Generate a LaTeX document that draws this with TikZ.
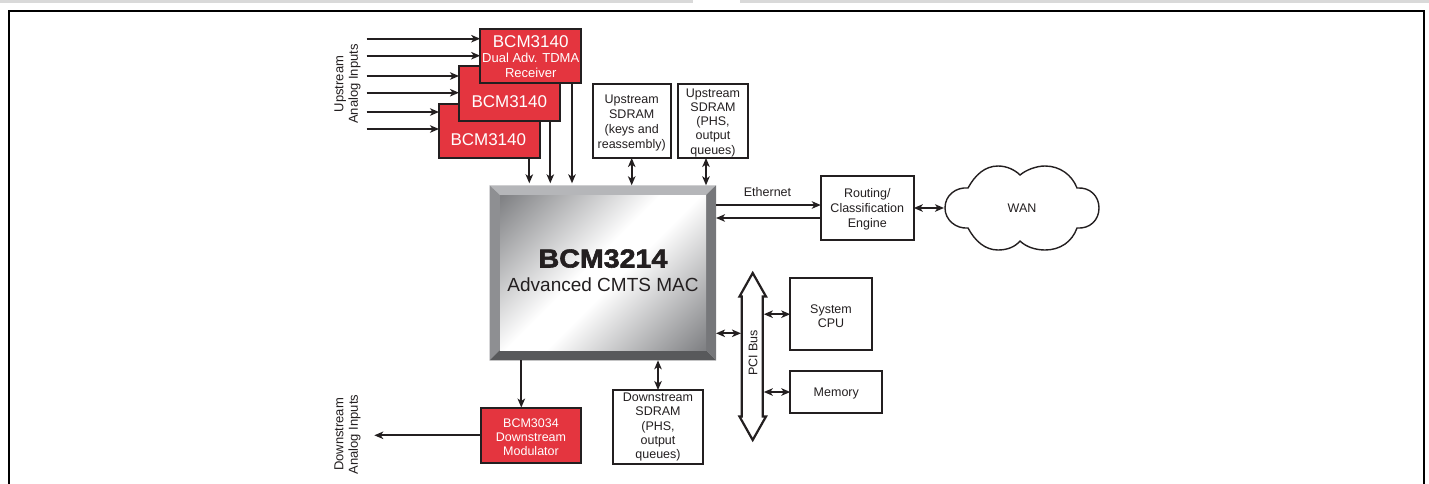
\documentclass[tikz,border=0pt]{standalone}
\usepackage{fontspec}
\usetikzlibrary{arrows.meta}
\setmainfont{Liberation Sans}
\newfontfamily\heavyfont[FakeBold=2.2,FakeStretch=1.1]{Liberation Sans Bold}
\definecolor{ink}{HTML}{231F20}
\definecolor{chipred}{HTML}{E4353F}
\definecolor{bevelA}{HTML}{B5B6B9}
\definecolor{bevelB}{HTML}{8E8F92}
\definecolor{bevelC}{HTML}{76777A}
\definecolor{bevelD}{HTML}{58595B}
\definecolor{chipgrey}{HTML}{808184}
\pgfdeclareverticalshading{chipfade}{100bp}{color(0bp)=(chipgrey); color(15bp)=(chipgrey);
  color(46bp)=(white); color(54bp)=(white); color(85bp)=(chipgrey); color(100bp)=(chipgrey)}
\newcommand{\fsize}[2]{\fontsize{#1}{#2}\selectfont}
\newcommand{\topgap}{\rule{0pt}{12pt}}
\tikzset{
  linebox/.style={draw=ink, line width=2pt, outer sep=0pt, inner sep=0pt,
    align=center, text=ink},
  redbox/.style={linebox, fill=chipred, text=white},
  conn/.style={draw=ink, line width=1.9pt, -{Stealth[length=9pt, width=7.5pt, inset=2.5pt]}},
  biconn/.style={draw=ink, line width=1.9pt,
    {Stealth[length=9pt, width=7.5pt, inset=2.5pt]}-{Stealth[length=9pt, width=7.5pt, inset=2.5pt]}},
  caption/.style={text=ink, align=center, inner sep=0pt}
}
\begin{document}
\begin{tikzpicture}[x=1pt, y=-1pt, line join=miter]

  \useasboundingbox (0,0) rectangle (1429,483);
  \clip (0,0) rectangle (1429,483);

  % Page rules
  \fill [black!15] (0,0) rectangle (693,2.5);
  \fill [black!15] (740,0) rectangle (1429,2.5);
  \draw [black, line width=2pt] (9,490) -- (9,11) -- (1424,11) -- (1424,490);

  % Receivers
  \node [redbox, minimum width=101, minimum height=54.5] (rxc) at (489.5,131) {};
  \node [caption, text=white, font=\fsize{17}{20}] (rxclabel) at (488.3,140) {BCM3140};
  \node [redbox, minimum width=101, minimum height=54.5] (rxb) at (509.5,93.7) {};
  \node [caption, text=white, font=\fsize{17}{20}] (rxblabel) at (509.3,102) {BCM3140};
  \node [redbox, minimum width=101, minimum height=54.5] (rxa) at (530.7,56) {};
  \node [caption, text=white, font=\fsize{13}{15}] (rxalabel) at (530.7,56.5)
    {{\fsize{17}{17}\selectfont BCM3140}\\Dual Adv. TDMA\\Receiver};

  % Chip bevels
  \fill [bevelA] (489.5,185.3) -- (716,185.3) -- (706,195) -- (500,195) -- cycle;
  \fill [bevelB] (489.5,185.3) -- (500,195) -- (500,350) -- (489.5,360.3) -- cycle;
  \fill [bevelC] (716,185.3) -- (706,195) -- (706,350) -- (716,360.3) -- cycle;
  \fill [bevelD] (489.5,360.3) -- (500,350) -- (706,350) -- (716,360.3) -- cycle;
  \shade [shading=chipfade, shading angle=45] (500,195) rectangle (706,350);

  % Chip
  \node [outer sep=0pt, inner sep=0pt, minimum width=226.5, minimum height=175] (chip)
    at (602.75,272.8) {};
  \node [caption, font=\fsize{19}{24}] (chiplabel) at (603,270.5)
    {{\fsize{26}{24}\selectfont\heavyfont BCM3214}\\Advanced CMTS MAC};

  % Memories
  \node [linebox, font=\fsize{12.5}{15}, minimum width=78, minimum height=74] (sdramkeys)
    at (631.7,121) {\topgap Upstream\\SDRAM\\(keys and\\reassembly)};
  \node [linebox, font=\fsize{12.5}{14.2}, minimum width=70, minimum height=74] (sdramphs)
    at (713,121) {\topgap Upstream\\SDRAM\\(PHS,\\output\\queues)};
  \node [linebox, font=\fsize{12.5}{14.2}, minimum width=89.5, minimum height=74] (sdramdown)
    at (658,427) {Downstream\\SDRAM\\(PHS,\\output\\queues)};

  % Modulator
  \node [redbox, font=\fsize{12.5}{14.2}, minimum width=100.5, minimum height=55.5] (modulator)
    at (531,435.3) {\topgap BCM3034\\Downstream\\Modulator};

  % Right side blocks
  \node [linebox, font=\fsize{12.5}{15}, minimum width=93, minimum height=64.5] (routing)
    at (867.3,208) {\topgap Routing/\\Classification\\Engine};
  \node [linebox, font=\fsize{12.5}{14}, minimum width=81.5, minimum height=72] (cpu)
    at (831,314.2) {\topgap System\\CPU};
  \node [linebox, font=\fsize{12.5}{15}, minimum width=92, minimum height=42] (memory)
    at (836.3,392) {\topgap Memory};

  % Cloud
  \draw [ink, line width=1.4pt]
    (945,208) .. controls (945,195) and (956,187) .. (968,188)
    .. controls (975,175) and (985,166) .. (998,166)
    .. controls (1007,166) and (1015,170) .. (1020,175)
    .. controls (1026,170) and (1036,166) .. (1045,166)
    .. controls (1060,166) and (1072,175) .. (1077,188)
    .. controls (1090,187) and (1099,196) .. (1099,208)
    .. controls (1099,220) and (1090,229) .. (1077,228)
    .. controls (1072,242) and (1060,250) .. (1045,250)
    .. controls (1036,250) and (1026,247) .. (1020,241)
    .. controls (1015,247) and (1007,250) .. (998,250)
    .. controls (985,250) and (975,241) .. (968,228)
    .. controls (956,229) and (945,220) .. (945,208) -- cycle;
  \node [caption, font=\fsize{12.5}{15}, outer sep=0pt, minimum width=156] (wan)
    at (1022,208) {WAN};

  % PCI bus
  \draw [ink, line width=2.2pt, fill=white]
    (752.7,273) -- (766,296.5) -- (762.7,296.5) -- (762.7,416.5) -- (766,416.5)
    -- (752.7,440) -- (739.5,416.5) -- (741.7,416.5) -- (741.7,296.5) -- (739.5,296.5) -- cycle;
  \node [caption, rotate=90, font=\fsize{12.5}{15}] (pcibus) at (753,353) {PCI Bus};
  \coordinate (pcileft) at (741,333.3);
  \coordinate (pciright) at (763.8,333.3);

  % Side captions
  \node [caption, rotate=90, font=\fsize{13}{14.5}] (upcaption) at (347.5,84) {Upstream\\Analog Inputs};
  \node [caption, rotate=90, font=\fsize{13}{14.5}] (downcaption) at (347.5,434.5) {Downstream\\Analog Inputs};
  \node [caption, font=\fsize{12.5}{15}] (ethernet) at (767.5,192.5) {Ethernet};

  % Inputs
  \foreach \y/\rx in {38.7/rxa, 55.7/rxa, 76/rxb, 92.7/rxb, 112/rxc, 129/rxc}{
    \coordinate (inp) at (366.7,\y);
    \draw [conn] (inp) -- (inp -| \rx.west);
  }

  % Receivers to chip
  \foreach \rx/\dx in {rxc/39.8, rxb/40.8, rxa/41.3}{
    \draw [conn, shorten >=2pt] ([xshift=\dx]\rx.south) -- ([xshift=\dx]\rx.south |- chip.north);
  }

  % Memory links
  \draw [biconn] (sdramkeys.south) -- (sdramkeys.south |- chip.north);
  \draw [biconn] ([xshift=-7]sdramphs.south) -- ([xshift=-7]sdramphs.south |- chip.north);
  \draw [biconn] (sdramdown.north) -- (sdramdown.north |- chip.south);

  % Ethernet links
  \draw [conn] (chip.east |- 0,205) -- (routing.west |- 0,205);
  \draw [conn] (routing.west |- 0,218) -- (chip.east |- 0,218);
  \draw [biconn] (routing.east) -- (wan.west);

  % Bus links
  \draw [biconn] (chip.east |- pcileft) -- (pcileft);
  \draw [biconn] (cpu.west) -- (cpu.west -| pciright);
  \draw [biconn] (memory.west) -- (memory.west -| pciright);

  % Modulator links
  \draw [conn] ([xshift=-9.7]modulator.north |- chip.south) -- ([xshift=-9.7]modulator.north);
  \coordinate (downout) at (374.3,435.3);
  \draw [conn] (modulator.west) -- (downout);

\end{tikzpicture}
\end{document}
